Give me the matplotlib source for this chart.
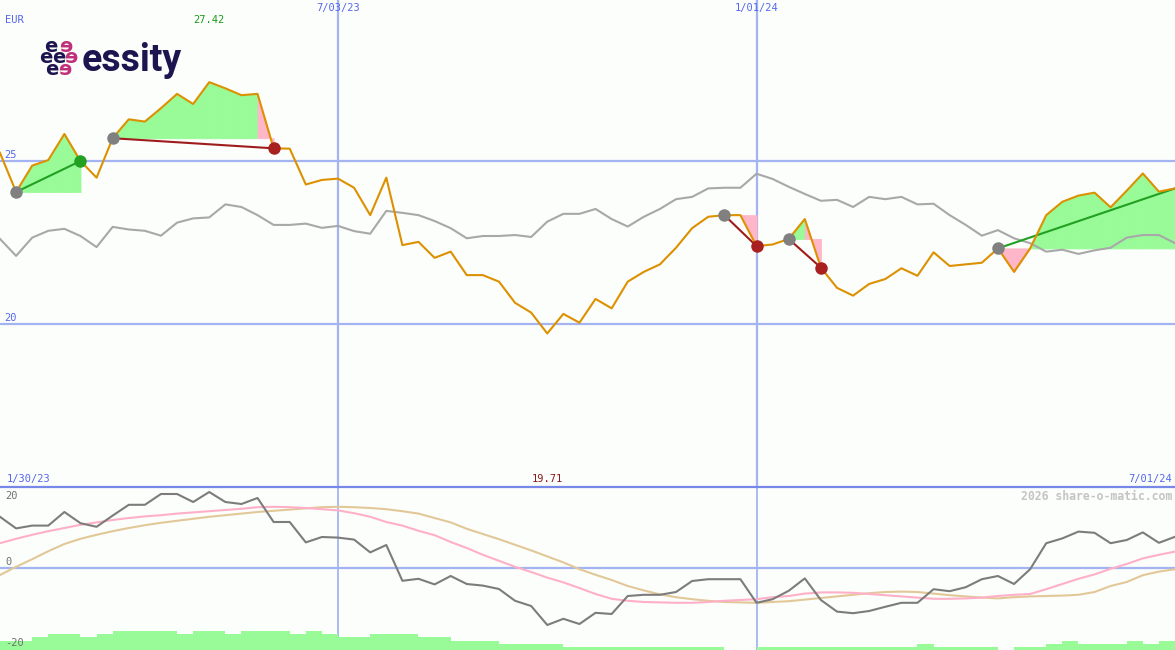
import numpy as np
import matplotlib
matplotlib.use("Agg")
import matplotlib.pyplot as plt
from matplotlib.lines import Line2D
from matplotlib.transforms import blended_transform_factory as btf
from matplotlib import font_manager as fm

# ---------------- data ----------------
weeks = list(range(74))  # weekly points 1/30/23 .. 7/01/24
price = [25.25, 24.05, 24.86, 25.03, 25.83, 25.00, 24.49, 25.70, 26.28, 26.21,
         26.62, 27.06, 26.75, 27.42, 27.23, 27.02, 27.06, 25.39, 25.38, 24.28,
         24.42, 24.46, 24.18, 23.34, 24.49, 22.42, 22.52, 22.03, 22.22, 21.50,
         21.50, 21.30, 20.65, 20.35, 19.71, 20.31, 20.04, 20.77, 20.48, 21.30,
         21.60, 21.83, 22.34, 22.94, 23.29, 23.34, 23.34, 22.39, 22.44, 22.61,
         23.22, 21.73, 21.11, 20.87, 21.23, 21.38, 21.71, 21.48, 22.20, 21.78,
         21.83, 21.88, 22.32, 21.60, 22.32, 23.34, 23.75, 23.94, 24.03, 23.58,
         24.09, 24.62, 24.06, 24.16]
bench = [22.61, 22.09, 22.65, 22.86, 22.92, 22.70, 22.36, 22.98, 22.90, 22.86,
         22.71, 23.11, 23.24, 23.27, 23.67, 23.59, 23.34, 23.04, 23.04, 23.08,
         22.95, 23.01, 22.85, 22.77, 23.47, 23.41, 23.34, 23.16, 22.94, 22.63,
         22.70, 22.70, 22.73, 22.67, 23.14, 23.38, 23.38, 23.53, 23.22, 22.99,
         23.29, 23.53, 23.83, 23.90, 24.16, 24.18, 24.18, 24.61, 24.45, 24.21,
         23.99, 23.78, 23.81, 23.59, 23.90, 23.83, 23.90, 23.67, 23.69, 23.34,
         23.04, 22.71, 22.88, 22.63, 22.48, 22.22, 22.28, 22.15, 22.26, 22.34,
         22.65, 22.73, 22.73, 22.48]
momentum = [12.8, 9.9, 10.6, 10.6, 14.0, 11.2, 10.3, 13.1, 15.8, 15.8,
            18.5, 18.5, 16.5, 19.0, 16.5, 16.0, 17.5, 11.5, 11.5, 6.4,
            7.75, 7.6, 7.1, 3.9, 5.75, -3.2, -2.7, -4.1, -2.0, -4.0,
            -4.4, -5.25, -8.2, -9.5, -14.25, -12.7, -14.0, -11.2, -11.5, -7.0,
            -6.7, -6.7, -6.0, -3.25, -2.8, -2.8, -2.8, -8.7, -7.8, -5.7,
            -2.6, -8.0, -10.9, -11.3, -10.75, -9.7, -8.7, -8.7, -5.3, -5.8,
            -4.8, -2.8, -2.0, -4.0, -0.3, 6.2, 7.4, 9.1, 8.8, 6.2,
            7.0, 8.9, 6.3, 7.8]
mom_fast = [6.2, 7.3, 8.3, 9.2, 10.0, 10.8, 11.4, 12.0, 12.5, 12.9,
            13.2, 13.6, 13.9, 14.2, 14.5, 14.8, 15.2, 15.3, 15.2, 15.0,
            14.7, 14.4, 13.7, 12.8, 11.5, 10.6, 9.3, 8.2, 6.5, 5.0,
            3.3, 1.8, 0.3, -1.0, -2.4, -3.6, -5.0, -6.5, -7.7, -8.2,
            -8.5, -8.6, -8.7, -8.7, -8.5, -8.2, -8.0, -7.8, -7.3, -7.0,
            -6.4, -6.1, -6.1, -6.2, -6.5, -6.8, -7.1, -7.4, -7.7, -7.7,
            -7.6, -7.4, -7.0, -6.7, -6.5, -5.3, -4.0, -2.7, -1.6, -0.2,
            1.0, 2.4, 3.3, 4.1]
mom_slow = [-1.75, 0.3, 2.2, 4.2, 6.0, 7.3, 8.3, 9.2, 10.0, 10.7,
            11.3, 11.8, 12.3, 12.8, 13.2, 13.6, 14.0, 14.3, 14.6, 14.9,
            15.2, 15.3, 15.2, 15.0, 14.7, 14.2, 13.6, 12.5, 11.4, 9.8,
            8.5, 7.2, 5.8, 4.4, 2.9, 1.4, -0.3, -1.7, -3.0, -4.5,
            -5.6, -6.6, -7.3, -7.8, -8.2, -8.5, -8.6, -8.7, -8.5, -8.3,
            -7.9, -7.5, -7.1, -6.7, -6.3, -6.0, -5.9, -6.0, -6.4, -6.8,
            -7.1, -7.4, -7.6, -7.3, -7.1, -7.0, -6.9, -6.7, -6.0, -4.5,
            -3.5, -1.8, -0.9, -0.3]
volume = [3, 3, 4, 5, 5, 4, 5, 6, 6, 6,
          6, 5, 6, 6, 5, 6, 6, 6, 5, 6,
          5, 4, 4, 5, 5, 5, 4, 4, 3, 3,
          3, 2, 2, 2, 2, 1, 1, 1, 1, 1,
          1, 1, 1, 1, 1, 0, 0, 1, 1, 1,
          1, 1, 1, 1, 1, 1, 1, 2, 1, 1,
          1, 1, 0, 1, 1, 2, 3, 2, 2, 2,
          3, 2, 3]
entries = [1, 7, 45, 49, 62]
exits = [5, 17, 47, 51, 73]
closed = [True, True, True, True, False]
date_marks = [21, 47]
date_labels = ["7/03/23", "1/01/24"]
start_label, end_label = "1/30/23", "7/01/24"
currency = "EUR"
price_levels = [20, 25]
mom_levels = [20, 0, -20]

# ---------------- style ----------------
BG = "#FBFEFB"
GRID = "#A4B4F2"
DIV = "#7888E8"
BLUE_TXT = "#5566EE"
ORANGE = "#DD9000"
GREY = "#A8A8A8"
DGREY = "#7C7C7C"
PINKL = "#FFB0C8"
TAN = "#E2C898"
GFILL = "#98FB98"
PFILL = "#FFB6C8"
GLINE = "#22A022"
RLINE = "#A01C1C"
MONO = "DejaVu Sans Mono"

installed = {f.name for f in fm.fontManager.ttflist}
LOGO_FONT = "Liberation Sans Narrow" if "Liberation Sans Narrow" in installed else "Roboto"
LOGO_SIZE = 32 if LOGO_FONT == "Liberation Sans Narrow" else 27

W, H = 1175, 650
fig = plt.figure(figsize=(W / 100, H / 100), dpi=100)
fig.patch.set_facecolor(BG)
ax = fig.add_axes([0, 163 / H, 1, 487 / H])
ax2 = fig.add_axes([0, 0, 1, 163 / H])
for a in (ax, ax2):
    a.axis("off")
    a.set_xlim(0, 73)
ax.set_ylim(15.0, 29.94)
ax2.set_ylim(-20.5, 20.25)

x = np.array(weeks)
p = np.array(price)

# grid
for lv in price_levels:
    ax.axhline(lv, color=GRID, lw=1.6, zorder=1)
for d in date_marks:
    ax.axvline(d, color=GRID, lw=1.6, zorder=1)
    ax2.axvline(d, color=GRID, lw=1.3, zorder=1)
ax2.axhline(0, color=GRID, lw=1.6, zorder=1)
fig.add_artist(Line2D([0, 1], [1 - 487 / H] * 2, transform=fig.transFigure,
                      color=DIV, lw=1.6, zorder=5))

# trade fills
for e, xx in zip(entries, exits):
    lvl = p[e]
    for k in range(e, xx):
        col = GFILL if p[k + 1] > lvl else PFILL
        ax.fill_between(x[k:k + 2], lvl, p[k:k + 2], facecolor=col,
                        edgecolor=col, lw=0.6, zorder=2)

# benchmark & price
ax.plot(x, bench, color=GREY, lw=1.5, zorder=3)
for e, xx in zip(entries, exits):
    col = GLINE if p[xx] > p[e] else RLINE
    ax.plot([x[e], x[xx]], [p[e], p[xx]], color=col, lw=1.5, zorder=4)
ax.plot(x, p, color=ORANGE, lw=1.5, zorder=5)
for e, xx, c in zip(entries, exits, closed):
    ax.plot(x[e], p[e], "o", color="#808080", ms=9, mew=0, zorder=6)
    if c:
        col = "#22A022" if p[xx] > p[e] else "#A82020"
        ax.plot(x[xx], p[xx], "o", color=col, ms=9, mew=0, zorder=6)

# bottom panel
ax2.bar(x[:-1], np.array(volume) * 0.79, width=1.0, align="edge", bottom=-20.5,
        color=GFILL, lw=0, zorder=2)
ax2.plot(x, mom_slow, color=TAN, lw=1.5, zorder=3)
ax2.plot(x, mom_fast, color=PINKL, lw=1.5, zorder=3)
ax2.plot(x, momentum, color=DGREY, lw=1.5, zorder=4)

# texts
tf = fig.transFigure
def ftxt(px, py, s, fs=7.5, **kw):
    fig.text(px / W, 1 - py / H, s, transform=tf, fontfamily=MONO, fontsize=fs, **kw)

ftxt(5, 20, currency, color=BLUE_TXT, va="center")
for d, lab in zip(date_marks, date_labels):
    fig.text(d, 1 - 8 / H, lab, transform=btf(ax.transData, tf), fontfamily=MONO,
             fontsize=7.5, color=BLUE_TXT, ha="center", va="center")
imax = int(np.argmax(p)); imin = int(np.argmin(p))
fig.text(imax, 1 - 20 / H, f"{p[imax]:.2f}", transform=btf(ax.transData, tf),
         fontfamily=MONO, fontsize=7.5, color="#1A9A1A", ha="center", va="center")
fig.text(imin, 1 - 479 / H, f"{p[imin]:.2f}", transform=btf(ax.transData, tf),
         fontfamily=MONO, fontsize=7.5, color="#8B1A1A", ha="center", va="center")
ftxt(7, 479, start_label, color=BLUE_TXT, va="center")
ftxt(1172, 479, end_label, color=BLUE_TXT, va="center", ha="right")
for lv in price_levels:
    ax.annotate(str(lv), (0, lv), xycoords=btf(ax.transAxes, ax.transData),
                xytext=(4, 1), textcoords="offset pixels", fontfamily=MONO,
                fontsize=7.5, color=BLUE_TXT, va="bottom")
ftxt(5, 496, str(mom_levels[0]), color="#707070", va="center")
ftxt(5, 562, str(mom_levels[1]), color="#707070", va="center")
ftxt(5, 643, str(mom_levels[2]), color="#707070", va="center")
ftxt(1172, 496, "2026 share-o-matic.com", fs=8.3, color="#C4C4C4", va="center",
     ha="right", fontweight="bold")

# logo
NAVY = "#1E1450"; MAG = "#C0307A"
fig.text(82 / W, 1 - 71 / H, "essity", transform=tf, fontsize=LOGO_SIZE,
         fontweight="bold", color=NAVY, va="baseline", ha="left", fontfamily=LOGO_FONT)
for (lx, ly, ch, col) in [(51, 52, "e", NAVY), (66, 52, "\u0258", MAG),
                           (46, 63, "e", NAVY), (59, 63, "e", NAVY), (71, 63, "\u0258", MAG),
                           (52, 75, "e", NAVY), (65, 75, "\u0258", MAG)]:
    fig.text(lx / W, 1 - ly / H, ch, transform=tf, fontsize=14, fontweight="bold",
             color=col, ha="center", va="baseline", fontfamily="DejaVu Sans")

fig.savefig("out.png", dpi=100, facecolor=BG)
